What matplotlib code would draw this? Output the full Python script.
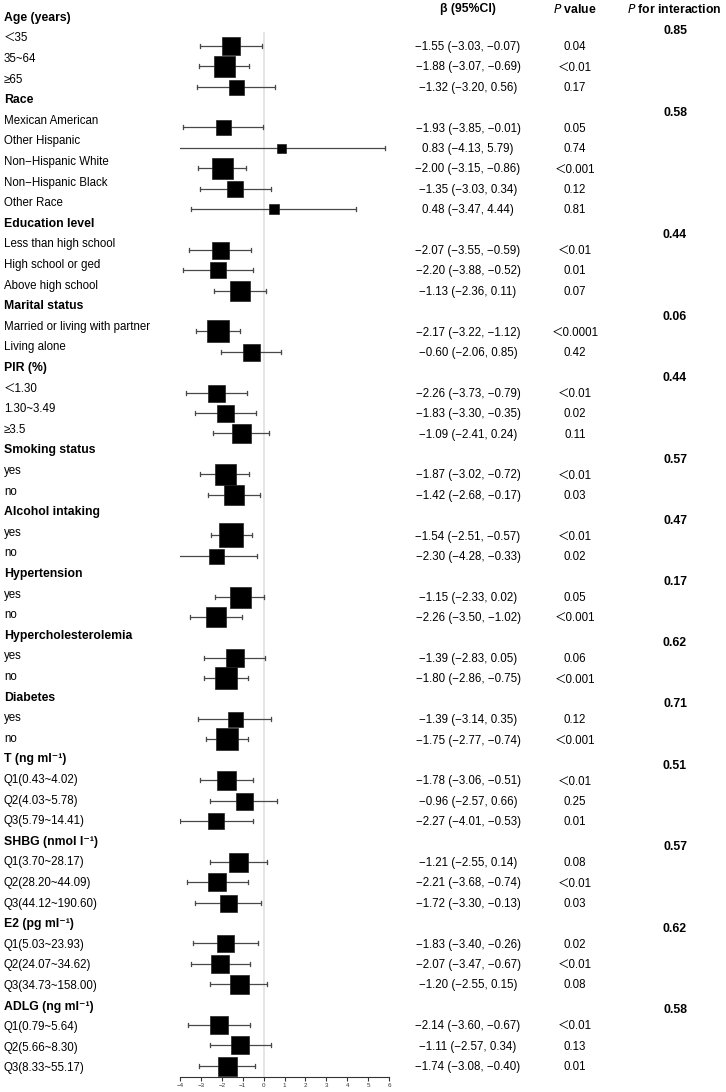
import numpy as np
import matplotlib.pyplot as plt
import matplotlib.transforms as mtransforms

plt.rcParams['font.family'] = ['Liberation Sans', 'DejaVu Sans', 'Noto Sans CJK SC']

# subgroup headers and P for interaction
groups = ["Age (years)", "Race", "Education level", "Marital status", "PIR (%)",
          "Smoking status", "Alcohol intaking", "Hypertension", "Hypercholesterolemia",
          "Diabetes", "T (ng ml⁻¹)", "SHBG (nmol l⁻¹)", "E2 (pg ml⁻¹)", "ADLG (ng ml⁻¹)"]
p_interaction = ["0.85", "0.58", "0.44", "0.06", "0.44", "0.57", "0.47", "0.17",
                 "0.62", "0.71", "0.51", "0.57", "0.62", "0.58"]
group_sizes = [3, 5, 3, 2, 3, 2, 2, 2, 2, 2, 3, 3, 3, 3]

sub_labels = ["＜35", "35~64", "≥65",
              "Mexican American", "Other Hispanic", "Non−Hispanic White", "Non−Hispanic Black", "Other Race",
              "Less than high school", "High school or ged", "Above high school",
              "Married or living with partner", "Living alone",
              "＜1.30", "1.30~3.49", "≥3.5",
              "yes", "no",
              "yes", "no",
              "yes", "no",
              "yes", "no",
              "yes", "no",
              "Q1(0.43~4.02)", "Q2(4.03~5.78)", "Q3(5.79~14.41)",
              "Q1(3.70~28.17)", "Q2(28.20~44.09)", "Q3(44.12~190.60)",
              "Q1(5.03~23.93)", "Q2(24.07~34.62)", "Q3(34.73~158.00)",
              "Q1(0.79~5.64)", "Q2(5.66~8.30)", "Q3(8.33~55.17)"]
beta = [-1.55, -1.88, -1.32,
        -1.93, 0.83, -2.00, -1.35, 0.48,
        -2.07, -2.20, -1.13,
        -2.17, -0.60,
        -2.26, -1.83, -1.09,
        -1.87, -1.42,
        -1.54, -2.30,
        -1.15, -2.26,
        -1.39, -1.80,
        -1.39, -1.75,
        -1.78, -0.96, -2.27,
        -1.21, -2.21, -1.72,
        -1.83, -2.07, -1.20,
        -2.14, -1.11, -1.74]
ci_low = [-3.03, -3.07, -3.20,
          -3.85, -4.13, -3.15, -3.03, -3.47,
          -3.55, -3.88, -2.36,
          -3.22, -2.06,
          -3.73, -3.30, -2.41,
          -3.02, -2.68,
          -2.51, -4.28,
          -2.33, -3.50,
          -2.83, -2.86,
          -3.14, -2.77,
          -3.06, -2.57, -4.01,
          -2.55, -3.68, -3.30,
          -3.40, -3.47, -2.55,
          -3.60, -2.57, -3.08]
ci_high = [-0.07, -0.69, 0.56,
           -0.01, 5.79, -0.86, 0.34, 4.44,
           -0.59, -0.52, 0.11,
           -1.12, 0.85,
           -0.79, -0.35, 0.24,
           -0.72, -0.17,
           -0.57, -0.33,
           0.02, -1.02,
           0.05, -0.75,
           0.35, -0.74,
           -0.51, 0.66, -0.53,
           0.14, -0.74, -0.13,
           -0.26, -0.67, 0.15,
           -0.67, 0.34, -0.40]
p_values = ["0.04", "＜0.01", "0.17",
            "0.05", "0.74", "＜0.001", "0.12", "0.81",
            "＜0.01", "0.01", "0.07",
            "＜0.0001", "0.42",
            "＜0.01", "0.02", "0.11",
            "＜0.01", "0.03",
            "＜0.01", "0.02",
            "0.05", "＜0.001",
            "0.06", "＜0.001",
            "0.12", "＜0.001",
            "＜0.01", "0.25", "0.01",
            "0.08", "＜0.01", "0.03",
            "0.02", "＜0.01", "0.08",
            "＜0.01", "0.13", "0.01"]
# relative box weights
weights = [18, 21, 15,
           15, 9, 21, 16, 10,
           17, 16, 20,
           23, 17,
           17, 17, 19,
           21, 20,
           24, 15,
           21, 20,
           18, 22,
           15, 23,
           19, 17, 16,
           19, 18, 17,
           17, 18, 19,
           18, 18, 19]

W, H = 726, 1092
fig = plt.figure(figsize=(W / 100, H / 100), dpi=100)
row_px = 20.4
top_px = 25.4
axis_px = 1077
ymax = (axis_px - top_px) / row_px
ymin = -top_px / row_px
ax = fig.add_axes([180 / W, 1 - axis_px / H, 209 / W, axis_px / H])
ax.set_xlim(-4, 6)
ax.set_ylim(ymax, ymin)

trans = mtransforms.blended_transform_factory(fig.transFigure, ax.transData)


def label_y(r):
    # the label column is spaced a little wider than the plot rows
    px = 17.7 + 20.6 * r
    return (px - top_px) / row_px


# assign rows
header_rows = []
sub_rows = []
r = 0
for n in group_sizes:
    header_rows.append(r)
    r += 1
    for _ in range(n):
        sub_rows.append(r)
        r += 1
sub_rows = np.array(sub_rows)

ax.vlines(0, 0.3, ymax, color='#e0e0e0', lw=1.2, zorder=0)

ecol = '#484848'
for y, b, lo, hi, w in zip(sub_rows, beta, ci_low, ci_high, weights):
    ax.plot([lo, hi], [y, y], color=ecol, lw=0.9, zorder=1)
    ax.plot([lo, lo], [y - 0.1, y + 0.1], color=ecol, lw=0.9, zorder=1)
    ax.plot([hi, hi], [y - 0.1, y + 0.1], color=ecol, lw=0.9, zorder=1)
    ax.plot(b, y, marker='s', ms=w * 0.72, color='black', mec='#222222', mew=0.5, zorder=2)

fs = 8.3
for y, g, p in zip(header_rows, groups, p_interaction):
    fig.text(4 / W, label_y(y), g, transform=trans, fontsize=8.8, fontweight='bold', va='center', ha='left')
    fig.text(675 / W, y + 0.28, p, transform=trans, fontsize=8.8, fontweight='bold', va='center', ha='center')

for y, lab, b, lo, hi, p in zip(sub_rows, sub_labels, beta, ci_low, ci_high, p_values):
    fig.text(4 / W, label_y(y), lab, transform=trans, fontsize=fs, va='center', ha='left')
    s = f"{b:.2f} ({lo:.2f}, {hi:.2f})".replace('-', '−')
    fig.text(468 / W, y + 0.06, s, transform=trans, fontsize=fs, va='center', ha='center')
    fig.text(575 / W, y + 0.06, p, transform=trans, fontsize=fs, va='center', ha='center')

hy = ymin + 9.3 / row_px
fig.text(468 / W, hy, "β (95%CI)", transform=trans, fontsize=8.8, fontweight='bold', va='center', ha='center')
fig.text(575 / W, hy, r"$\bf{\it{P}}$ value", transform=trans, fontsize=8.8, fontweight='bold', va='center', ha='center')
fig.text(674 / W, hy, r"$\bf{\it{P}}$ for interaction", transform=trans, fontsize=8.8, fontweight='bold', va='center', ha='center')

for side in ['left', 'right', 'top']:
    ax.spines[side].set_visible(False)
ax.spines['bottom'].set_bounds(-4, 6)
ax.spines['bottom'].set_color('#333333')
ax.spines['bottom'].set_linewidth(0.8)
ax.set_yticks([])
ax.set_xticks(range(-4, 7))
ax.tick_params(axis='x', labelsize=4.5, length=3, width=0.8, colors='#333333', pad=1.5)
ax.patch.set_visible(False)

fig.savefig("out.png", dpi=100)
